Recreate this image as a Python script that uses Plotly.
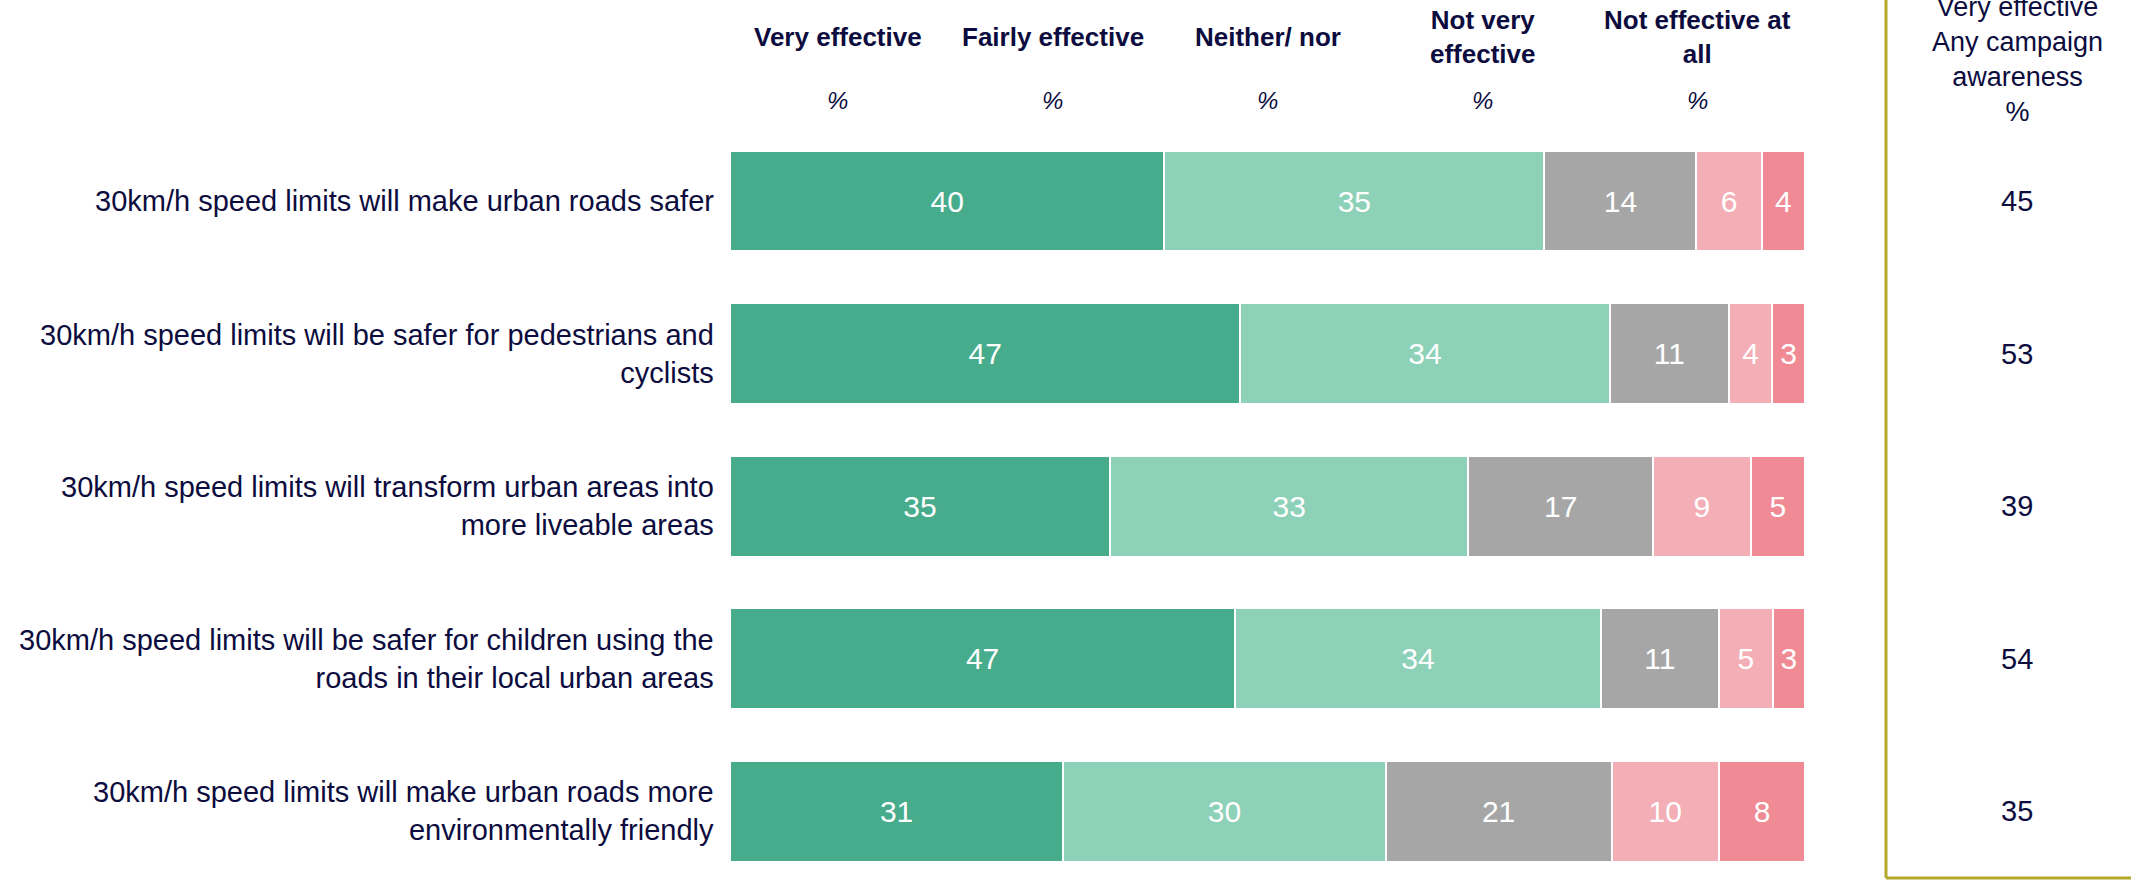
import plotly.graph_objects as go

# Survey statements (one row each, top to bottom)
statements = [
    "30km/h speed limits will make urban roads safer",
    "30km/h speed limits will be safer for pedestrians and<br>cyclists",
    "30km/h speed limits will transform urban areas into<br>more liveable areas",
    "30km/h speed limits will be safer for children using the<br>roads in their local urban areas",
    "30km/h speed limits will make urban roads more<br>environmentally friendly",
]

# Response scale and shares (%)
response_labels = ["Very effective", "Fairly effective", "Neither/ nor",
                   "Not very<br>effective", "Not effective at<br>all"]
very_effective = [40, 47, 35, 47, 31]
fairly_effective = [35, 34, 33, 34, 30]
neither_nor = [14, 11, 17, 11, 21]
not_very_effective = [6, 4, 9, 5, 10]
not_effective_at_all = [4, 3, 5, 3, 8]

# "Very effective" among respondents with any campaign awareness (%)
aware_very_effective = [45, 53, 39, 54, 35]

colors = ["#46ac8b", "#8dd1b8", "#a6a6a6", "#f4aeb5", "#f08a94"]
NAVY = "#0c0c3e"
FONT = "Liberation Sans, Arial, sans-serif"

rows = list(range(len(statements)))
series = [very_effective, fairly_effective, neither_nor,
          not_very_effective, not_effective_at_all]

fig = go.Figure()
for name, vals, col in zip(response_labels, series, colors):
    fig.add_trace(go.Bar(
        y=rows, x=vals, orientation="h", name=name.replace("<br>", " "),
        marker=dict(color=col, line=dict(color="white", width=2)),
        text=vals, texttemplate="%{text}", textposition="inside",
        insidetextanchor="middle", textangle=0, constraintext="none",
        textfont=dict(color="white", size=30, family=FONT),
        hoverinfo="skip",
    ))

annotations = []
# Statement labels, right-aligned next to the bars
for r, s in zip(rows, statements):
    annotations.append(dict(
        x=0, xref="paper", xshift=-14, y=r, yref="y", text=s,
        xanchor="right", yanchor="middle", align="right", showarrow=False,
        font=dict(size=29, color=NAVY, family=FONT),
    ))

# Column headers above each segment group
header_x = [10, 30, 50, 70, 90]
for hx, lab in zip(header_x, response_labels):
    annotations.append(dict(
        x=hx, xref="x", y=1 - 37 / 880, yref="paper", text="<b>" + lab + "</b>",
        xanchor="center", yanchor="middle", showarrow=False,
        font=dict(size=26, color=NAVY, family=FONT),
    ))
    annotations.append(dict(
        x=hx, xref="x", y=1 - 100 / 880, yref="paper", text="<i>%</i>",
        xanchor="center", yanchor="middle", showarrow=False,
        font=dict(size=24, color=NAVY, family=FONT),
    ))

# Side column: campaign-aware "very effective"
side_x = (2017 - 730) / 1075
annotations.append(dict(
    x=side_x, xref="paper", y=1 - 59.5 / 880, yref="paper",
    text="Very effective<br>Any campaign<br>awareness<br>%",
    xanchor="center", yanchor="middle", showarrow=False,
    font=dict(size=27, color=NAVY, family=FONT),
))
for r, v in zip(rows, aware_very_effective):
    annotations.append(dict(
        x=side_x, xref="paper", y=r, yref="y", text=str(v),
        xanchor="center", yanchor="middle", showarrow=False,
        font=dict(size=29, color=NAVY, family=FONT),
    ))

line_x = (1886 - 730) / 1075
bottom_y = 1 - 878 / 880
shapes = [
    dict(type="line", xref="paper", yref="paper", x0=line_x, x1=line_x,
         y0=bottom_y, y1=1.02, line=dict(color="#b3a72c", width=3)),
    dict(type="line", xref="paper", yref="paper", x0=line_x, x1=1.35,
         y0=bottom_y, y1=bottom_y, line=dict(color="#b3a72c", width=3)),
]

fig.update_layout(
    width=2131, height=880,
    barmode="stack", barnorm="percent", bargap=0.338,
    showlegend=False,
    plot_bgcolor="white", paper_bgcolor="white",
    margin=dict(l=730, r=326, t=0, b=0),
    xaxis=dict(range=[0, 100], visible=False, fixedrange=True),
    yaxis=dict(range=[4.452, -1.318], visible=False, fixedrange=True),
    annotations=annotations, shapes=shapes,
)

fig.write_html("out.html")
